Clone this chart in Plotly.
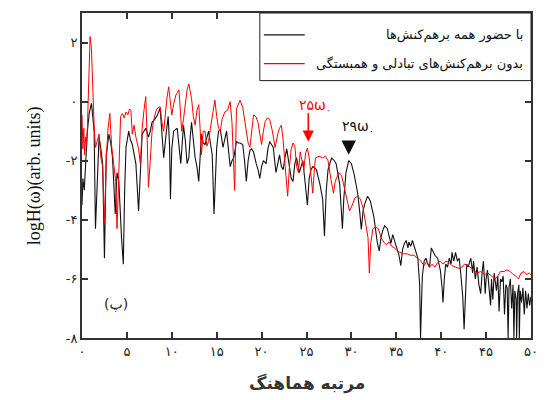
import plotly.graph_objects as go

# Harmonic spectrum with all interactions (black)
h_all = [0.0, 0.1, 0.25, 0.4, 0.6, 0.8, 1.05, 1.2, 1.35, 1.5, 1.7, 1.9, 2.1, 2.3, 2.5, 2.7, 3.0, 3.2, 3.4, 3.7,
         3.9, 4.1, 4.4, 4.6, 4.75, 4.9, 5.2, 5.4, 5.6, 5.8, 6.0, 6.3, 6.5, 6.7, 7.1, 7.4, 7.6, 7.8, 8.1, 8.4,
         8.7, 8.9, 9.1, 9.4, 9.6, 9.75, 9.85, 10.0, 10.2, 10.6, 10.8, 11.0, 11.3, 11.5, 11.7, 11.9, 12.05, 12.2, 12.4, 12.6,
         12.8, 13.0, 13.3, 13.5, 13.7, 13.9, 14.1, 14.3, 14.5, 14.7, 14.85, 15.0, 15.2, 15.4, 15.7, 15.9, 16.1, 16.3, 16.5, 16.7,
         16.9, 17.2, 17.4, 17.6, 17.9, 18.1, 18.3, 18.5, 18.7, 18.9, 19.1, 19.4, 19.6, 19.8, 20.0, 20.2, 20.5, 20.7, 20.9, 21.1,
         21.3, 21.6, 21.8, 22.0, 22.2, 22.4, 22.6, 22.8, 23.1, 23.3, 23.5, 23.7, 23.9, 24.2, 24.4, 24.6, 24.8, 25.0, 25.1, 25.3,
         25.5, 25.7, 26.1, 26.5, 26.8, 27.0, 27.2, 27.4, 27.8, 28.1, 28.3, 28.7, 28.9, 29.0, 29.15, 29.4, 29.7, 30.0, 30.3, 30.7,
         30.95, 31.1, 31.3, 31.5, 31.8, 32.1, 32.5, 32.7, 32.9, 33.1, 33.3, 33.5, 33.7, 34.0, 34.2, 34.4, 34.6, 34.8, 35.1, 35.3,
         35.5, 35.7, 35.9, 36.1, 36.3, 36.4, 36.6, 36.8, 37.1, 37.4, 37.6, 37.7, 37.8, 37.9, 38.1, 38.3, 38.5, 38.7, 38.9, 39.1,
         39.3, 39.6, 39.9, 40.1, 40.2, 40.35, 40.5, 40.7, 40.9, 41.1, 41.2, 41.4, 41.6, 41.8, 42.0, 42.2, 42.4, 42.55, 42.7, 42.85,
         43.0, 43.15, 43.3, 43.5, 43.6, 43.8, 44.0, 44.2, 44.4, 44.55, 44.7, 44.9, 45.0, 45.15, 45.3, 45.5, 45.6, 45.75, 45.9, 46.0,
         46.15, 46.3, 46.45, 46.6, 46.75, 46.9, 47.05, 47.2, 47.35, 47.45, 47.55, 47.7, 47.85, 48.0, 48.1, 48.2, 48.35, 48.4, 48.5, 48.65,
         48.7, 48.8, 48.95, 49.1, 49.25, 49.4, 49.55, 49.7, 49.85, 50.0]
log_all = [-3.5, -2.6, -3.0, -2.2, -1.0, -0.4, -0.06, -0.5, -1.0, -4.3, -2.7, -1.2, -1.6, -2.1, -5.3, -1.8, -1.1, -1.4, -1.9, -3.8,
           -2.4, -2.7, -4.6, -5.5, -3.0, -1.55, -1.0, -1.3, -1.45, -1.8, -2.1, -3.7, -2.2, -1.1, -0.9, -1.2, -1.0, -0.7, -0.6, -0.45,
           -0.22, -1.0, -1.9, -1.0, -0.5, -1.5, -3.3, -1.6, -1.0, -0.9, -1.4, -2.1, -0.8, -1.3, -2.1, -1.9, -1.2, -0.7, -1.3, -1.9,
           -2.2, -2.7, -1.1, -1.4, -1.45, -1.2, -1.0, -1.4, -1.8, -3.8, -2.4, -1.55, -1.0, -0.95, -1.55, -1.3, -1.0, -1.6, -2.2, -2.0,
           -1.9, -1.35, -1.4, -1.4, -1.45, -2.0, -2.7, -2.0, -1.65, -1.6, -1.7, -2.1, -2.3, -2.6, -2.2, -2.0, -2.1, -1.6, -1.35, -1.45,
           -1.55, -2.4, -2.1, -1.8, -2.2, -2.3, -1.9, -1.6, -2.2, -2.6, -2.7, -2.1, -1.9, -2.4, -2.2, -2.0, -2.6, -3.25, -3.5, -2.6,
           -2.3, -2.2, -2.3, -2.8, -3.3, -4.55, -3.0, -2.3, -1.9, -2.0, -2.1, -2.8, -3.6, -4.3, -3.3, -2.4, -2.0, -2.1, -2.45, -3.1,
           -3.8, -4.33, -3.7, -3.45, -3.2, -3.35, -3.9, -4.4, -4.8, -5.05, -4.6, -4.35, -4.2, -4.3, -4.55, -4.8, -4.5, -4.7, -5.0, -5.2,
           -5.55, -5.0, -4.8, -4.7, -4.95, -4.75, -4.9, -4.7, -5.0, -5.3, -6.2, -8.0, -6.9, -5.9, -5.4, -5.3, -5.5, -5.6, -4.95, -5.1,
           -5.2, -5.3, -5.7, -6.3, -6.8, -6.0, -5.5, -5.6, -5.3, -5.5, -5.1, -5.4, -5.1, -5.4, -5.3, -5.9, -6.6, -7.7, -6.2, -5.5,
           -5.6, -5.4, -5.3, -5.8, -5.4, -6.0, -5.6, -6.2, -6.5, -5.8, -5.4, -6.5, -6.0, -5.7, -6.3, -6.9, -6.0, -6.7, -5.8, -6.0,
           -6.4, -5.9, -7.1, -6.0, -6.1, -5.9, -7.2, -6.2, -6.3, -8.0, -6.3, -6.0, -7.0, -6.2, -8.0, -6.4, -6.7, -8.0, -6.5, -6.2,
           -8.0, -6.4, -6.8, -6.3, -7.2, -6.4, -7.0, -6.5, -6.9, -6.6]

# Harmonic spectrum without exchange and correlation interactions (red)
h_noxc = [0.0, 0.1, 0.2, 0.3, 0.4, 0.5, 0.6, 0.75, 0.9, 1.05, 1.2, 1.35, 1.5, 1.7, 1.9, 2.1, 2.3, 2.5, 2.7, 2.9,
          3.1, 3.3, 3.5, 3.75, 3.9, 4.1, 4.3, 4.5, 4.7, 4.9, 5.1, 5.3, 5.45, 5.6, 5.8, 6.0, 6.3, 6.5, 6.7, 6.9,
          7.1, 7.25, 7.4, 7.6, 7.8, 8.0, 8.3, 8.7, 8.9, 9.1, 9.3, 9.45, 9.65, 9.85, 10.0, 10.2, 10.45, 10.8, 11.0, 11.1,
          11.3, 11.5, 11.7, 11.9, 12.05, 12.2, 12.4, 12.6, 12.8, 13.0, 13.15, 13.3, 13.5, 13.7, 13.9, 14.1, 14.3, 14.5, 14.65, 14.8,
          15.0, 15.2, 15.4, 15.6, 15.9, 16.2, 16.5, 16.7, 16.85, 17.0, 17.2, 17.4, 17.6, 17.9, 18.1, 18.3, 18.5, 18.7, 18.9, 19.1,
          19.35, 19.6, 19.8, 20.0, 20.2, 20.4, 20.65, 20.9, 21.2, 21.5, 21.8, 22.0, 22.2, 22.4, 22.6, 22.75, 22.9, 23.1, 23.3, 23.5,
          23.7, 23.9, 24.1, 24.3, 24.5, 24.7, 24.9, 25.1, 25.3, 25.5, 25.7, 25.85, 26.0, 26.4, 26.8, 27.1, 27.4, 27.7, 28.0, 28.2,
          28.6, 28.9, 29.2, 29.5, 29.8, 30.1, 30.4, 30.7, 31.0, 31.3, 31.6, 31.85, 32.0, 32.15, 32.4, 32.7, 33.0, 33.3, 33.6, 33.9,
          34.2, 34.5, 34.8, 35.1, 35.4, 35.8, 36.2, 36.6, 37.0, 37.3, 37.6, 37.9, 38.1, 38.4, 38.7, 39.0, 39.3, 39.6, 39.9, 40.2,
          40.5, 40.9, 41.2, 41.6, 42.0, 42.3, 42.6, 43.0, 43.4, 43.7, 44.0, 44.4, 44.8, 45.2, 45.6, 46.0, 46.3, 46.6, 47.0, 47.3,
          47.7, 48.0, 48.3, 48.6, 48.9, 49.2, 49.5, 49.8, 50.0]
log_noxc = [-0.45, -1.6, -0.9, -1.8, -1.2, -1.5, -0.9, 0.6, 2.2, 1.8, 0.3, -0.8, -1.55, -1.3, -1.1, -1.9, -2.2, -4.1, -2.0, -0.9,
            -0.4, -1.5, -2.0, -2.7, -4.3, -2.0, -0.5, -0.4, -0.55, -0.35, -0.45, -0.25, -0.3, -1.1, -0.8, -1.2, -1.6, -2.1, -0.9, -0.3,
            0.17, -1.2, -2.9, -2.0, -1.0, -0.6, -0.25, -0.17, -0.7, -1.0, -0.3, 0.1, 0.5, -0.2, -0.45, -0.1, 0.22, 0.4, -0.6, -1.0,
            -0.6, 0.0, 0.4, 0.6, 0.3, 0.1, -0.5, -0.8, -0.3, -0.1, -0.9, -1.8, -1.0, -1.0, -1.5, -1.35, -0.9, -0.45, -0.1, 0.05,
            -0.5, -0.9, -1.0, -0.6, -0.35, -0.3, 0.0, -0.7, -1.8, -3.0, -0.25, -0.1, 0.05, -0.2, -0.6, -1.0, -1.4, -1.55, -0.9, -0.45,
            -0.5, -0.7, -1.1, -1.45, -1.0, -0.67, -0.55, -0.6, -1.0, -1.55, -1.1, -0.9, -0.8, -1.3, -2.1, -2.6, -3.2, -2.2, -1.6, -1.4,
            -1.5, -2.2, -2.4, -1.7, -2.0, -2.3, -1.75, -1.57, -1.9, -2.45, -3.1, -2.4, -1.9, -1.85, -1.9, -1.85, -2.0, -2.6, -3.1, -2.7,
            -2.4, -2.5, -2.9, -3.4, -3.7, -3.5, -3.25, -3.2, -3.3, -3.6, -4.1, -4.6, -5.8, -4.8, -4.3, -4.25, -4.3, -4.6, -4.75, -4.85,
            -4.75, -4.9, -4.95, -5.05, -5.1, -5.15, -5.15, -5.2, -5.2, -5.3, -5.35, -5.45, -5.55, -5.4, -5.6, -5.5, -5.6, -5.45, -5.4, -5.5,
            -5.4, -5.45, -5.55, -5.6, -5.65, -5.6, -5.5, -5.55, -5.65, -5.75, -5.8, -5.75, -5.85, -5.8, -5.9, -6.0, -5.9, -5.75, -5.75, -5.7,
            -5.75, -5.85, -5.9, -6.0, -5.8, -5.75, -5.85, -5.8, -5.85]

x_ticks = [0, 5, 10, 15, 20, 25, 30, 35, 40, 45, 50]
x_labels = ["۰", "۵", "۱۰", "۱۵", "۲۰", "۲۵", "۳۰", "۳۵", "۴۰", "۴۵", "۵۰"]
y_ticks = [-8, -6, -4, -2, 0, 2]
y_labels = ["-۸", "-۶", "-۴", "-۲", "۰", "۲"]

legend_all = "با حضور همه برهم‌کنش‌ها"
legend_noxc = "بدون برهم‌کنش‌های تبادلی و همبستگی"

FA_FONT = "DejaVu Sans"
AXIS_COLOR = "#333333"

fig = go.Figure()
fig.add_trace(go.Scatter(x=h_all, y=log_all, mode="lines", name=legend_all,
                         line=dict(color="#111111", width=1.1)))
fig.add_trace(go.Scatter(x=h_noxc, y=log_noxc, mode="lines", name=legend_noxc,
                         line=dict(color="#ff0000", width=1.0)))

axis_common = dict(showline=True, linewidth=2, linecolor=AXIS_COLOR, mirror="ticks",
                   ticks="inside", ticklen=6, tickwidth=1.5, tickcolor=AXIS_COLOR,
                   showgrid=False, zeroline=False,
                   tickfont=dict(family=FA_FONT, size=13, color="#222222"))

fig.update_layout(
    width=549, height=400,
    margin=dict(l=82, r=15, t=11, b=62),
    paper_bgcolor="white", plot_bgcolor="white",
    showlegend=False,
    xaxis=dict(range=[0, 50], tickvals=x_ticks, ticktext=x_labels, **axis_common),
    yaxis=dict(range=[-8, 3], tickvals=y_ticks, ticktext=y_labels, **axis_common),
)

# Legend box drawn by hand so the Persian labels sit right-aligned
fig.add_shape(type="rect", xref="paper", yref="paper", x0=0.396, x1=1.0, y0=0.792, y1=1.0,
              line=dict(color="#222222", width=1), fillcolor="white", layer="above")
fig.add_shape(type="line", xref="paper", yref="paper", x0=0.405, x1=0.496, y0=0.933, y1=0.933,
              line=dict(color="#111111", width=1.2))
fig.add_shape(type="line", xref="paper", yref="paper", x0=0.405, x1=0.496, y0=0.844, y1=0.844,
              line=dict(color="#ff0000", width=1.2))
fig.add_annotation(xref="paper", yref="paper", x=0.987, y=0.933, text=legend_all, showarrow=False,
                   xanchor="right", yanchor="middle", font=dict(family=FA_FONT, size=13, color="#111111"))
fig.add_annotation(xref="paper", yref="paper", x=0.987, y=0.844, text=legend_noxc, showarrow=False,
                   xanchor="right", yanchor="middle", font=dict(family=FA_FONT, size=13, color="#111111"))

# Arrows marking the cutoff harmonics
fig.add_annotation(x=25.2, y=-1.36, ax=0, ay=-30, text="", showarrow=True,
                   arrowhead=2, arrowsize=1.4, arrowwidth=1.6, arrowcolor="#ff0000")
fig.add_annotation(x=26.0, y=-0.16, text="۲۵ω<sub>۰</sub>", showarrow=False,
                   font=dict(family=FA_FONT, size=14, color="#ff0000"))
fig.add_annotation(x=29.7, y=-1.8, ax=0, ay=-15, text="", showarrow=True,
                   arrowhead=2, arrowsize=1.6, arrowwidth=1.8, arrowcolor="#111111")
fig.add_annotation(x=30.7, y=-0.85, text="۲۹ω<sub>۰</sub>", showarrow=False,
                   font=dict(family=FA_FONT, size=14, color="#111111"))

# Panel label
fig.add_annotation(xref="paper", yref="paper", x=0.044, y=0.07, text="(پ)", showarrow=False,
                   font=dict(family=FA_FONT, size=14, color="#222222"))

# Axis titles
fig.add_annotation(xref="paper", yref="paper", x=-0.133, y=0.5, text="logH(ω)(arb. units)",
                   textangle=-90, showarrow=False,
                   font=dict(family="Liberation Serif", size=18, color="#111111"))
fig.add_annotation(xref="paper", yref="paper", x=0.5, y=-0.141, text="<b>مرتبه هماهنگ</b>",
                   showarrow=False, yanchor="middle",
                   font=dict(family=FA_FONT, size=17, color="#333333"))

fig.write_html("out.html")
